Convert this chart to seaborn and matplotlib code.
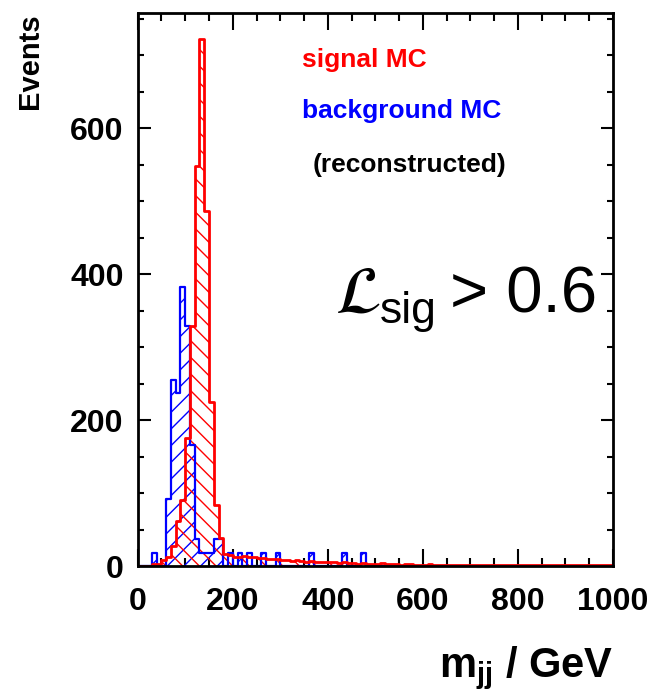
import numpy as np
import pandas as pd
import matplotlib
matplotlib.use("Agg")
import matplotlib.pyplot as plt
import seaborn as sns
from matplotlib.ticker import MultipleLocator

# ---------------- data ----------------
x_min, x_max, bin_width = 0, 1000, 10

signal_counts = [
    0, 0, 0, 3, 3, 8, 13, 27, 62, 90,          # 0-100
    176, 329, 548, 722, 487, 225, 84, 38, 16, 15,  # 100-200
    13, 12, 14, 13, 12, 11, 11, 10, 9, 9,       # 200-300
    8, 8, 7, 8, 7, 6, 7, 6, 5, 6,               # 300-400
    5, 5, 4, 5, 4, 4, 3, 4, 3, 3,               # 400-500
    3, 4, 3, 3, 3, 2, 3, 3, 2, 2,               # 500-600
    2, 3, 2, 2, 2, 2, 1, 2, 2, 2,               # 600-700
    2, 1, 2, 2, 1, 2, 2, 1, 2, 1,               # 700-800
    1, 2, 1, 1, 2, 1, 1, 1, 2, 1,               # 800-900
    1, 1, 1, 1, 1, 1, 1, 1, 1, 1,               # 900-1000
]

background_counts = [
    0, 0, 0, 18, 0, 0, 92, 255, 237, 382,
    329, 166, 37, 18, 18, 18, 37, 37, 0, 18,
    0, 18, 0, 18, 0, 0, 18, 0, 0, 18,
    0, 0, 0, 0, 0, 0, 18, 0, 0, 0,
    0, 0, 0, 18, 0, 0, 0, 18, 0, 0,
] + [0] * 50

labels = ["signal MC", "background MC", "(reconstructed)"]
cut_symbol = r"$\mathcal{L}$"
cut_sub = "sig"
cut_rest = "> 0.6"
x_label = r"$\mathbf{m_{jj}}$ / GeV"
y_label = "Events"
x_ticks = [0, 200, 400, 600, 800, 1000]
y_ticks = [0, 200, 400, 600]

# ---------------- plotting ----------------
sns.set_style("ticks")
plt.rcParams["font.family"] = ["Liberation Sans", "DejaVu Sans"]
plt.rcParams["mathtext.fontset"] = "custom"
plt.rcParams["mathtext.rm"] = "Liberation Sans"
plt.rcParams["mathtext.bf"] = "Liberation Sans:bold"
plt.rcParams["mathtext.sf"] = "Liberation Sans"
plt.rcParams["hatch.linewidth"] = 1.0
plt.rcParams["text.color"] = "black"
plt.rcParams["axes.labelcolor"] = "black"

edges = list(np.arange(x_min, x_max + bin_width, bin_width).astype(float))
centers = [(a + b) / 2 for a, b in zip(edges[:-1], edges[1:])]
df_sig = pd.DataFrame({"m": centers, "w": signal_counts})
df_bkg = pd.DataFrame({"m": centers, "w": background_counts})

fig = plt.figure(figsize=(6.52, 6.98), dpi=100)
ax = fig.add_axes([0.2112, 0.1891, 0.7290, 0.7923])

RED = (1, 0, 0)
BLUE = (0, 0, 1)

# hatched fills
sns.histplot(data=df_bkg, x="m", weights="w", bins=edges, element="step",
             fill=True, color=BLUE, facecolor="none", edgecolor=BLUE, hatch="//",
             linewidth=0, ax=ax)
sns.histplot(data=df_sig, x="m", weights="w", bins=edges, element="step",
             fill=True, color=RED, facecolor="none", edgecolor=RED, hatch="\\\\",
             linewidth=0, ax=ax)
# outlines
sns.histplot(data=df_bkg, x="m", weights="w", bins=edges, element="step",
             fill=False, color=BLUE, linewidth=1.6, ax=ax)
sns.histplot(data=df_sig, x="m", weights="w", bins=edges, element="step",
             fill=False, color=RED, linewidth=2.0, ax=ax)

ax.set_xlim(x_min, x_max)
ax.set_ylim(0, 1.05 * max(signal_counts))

ax.set_xticks(x_ticks)
ax.set_yticks(y_ticks)
ax.xaxis.set_minor_locator(MultipleLocator(50))
ax.yaxis.set_minor_locator(MultipleLocator(50))
ax.tick_params(axis="both", which="both", direction="in", top=True, right=True,
               width=1.5, colors="black")
ax.tick_params(axis="x", which="major", length=12, pad=15)
ax.tick_params(axis="x", which="minor", length=6)
ax.tick_params(axis="y", which="major", length=9, pad=10)
ax.tick_params(axis="y", which="minor", length=4.5)
for lab in ax.get_xticklabels() + ax.get_yticklabels():
    lab.set_fontsize(23)
    lab.set_fontweight("bold")

for sp in ax.spines.values():
    sp.set_linewidth(2.0)
    sp.set_color("black")
    sp.set_visible(True)

ax.set_xlabel(x_label, fontsize=30, fontweight="bold", loc="right", labelpad=20,
              color="black")
ax.set_ylabel(y_label, fontsize=21, fontweight="bold", loc="top", labelpad=19,
              color="black")

ax.text(0.345, 0.903, labels[0], transform=ax.transAxes, color=RED,
        fontsize=19, fontweight="bold", va="baseline", ha="left")
ax.text(0.345, 0.811, labels[1], transform=ax.transAxes, color=BLUE,
        fontsize=19, fontweight="bold", va="baseline", ha="left")
ax.text(0.369, 0.713, labels[2], transform=ax.transAxes, color="black",
        fontsize=19, fontweight="bold", va="baseline", ha="left")

ax.text(0.415, 0.4575, cut_symbol, transform=ax.transAxes, color="black",
        fontsize=48, va="baseline", ha="left", math_fontfamily="stix")
ax.text(0.510, 0.4394, cut_sub, transform=ax.transAxes, color="black",
        fontsize=32, va="baseline", ha="left")
ax.text(0.967, 0.4575, cut_rest, transform=ax.transAxes, color="black",
        fontsize=47, va="baseline", ha="right")

fig.savefig("out.png", dpi=100)
